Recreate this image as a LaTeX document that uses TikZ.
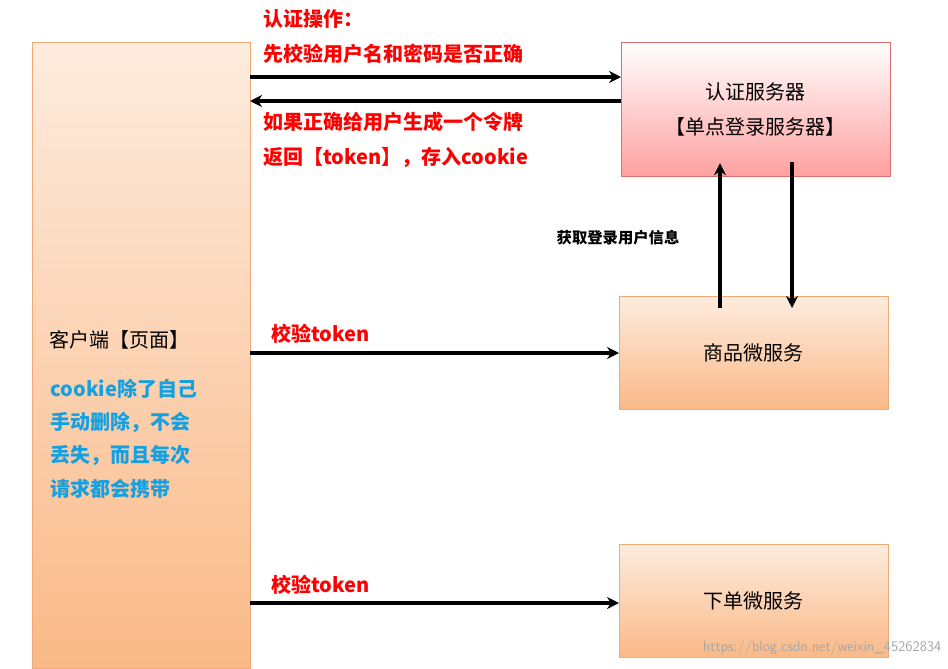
\documentclass[tikz,border=0pt]{standalone}
\usepackage{fontspec}
\usepackage{xcolor}
\newfontfamily\cjk{Noto Sans CJK SC}
\usetikzlibrary{arrows.meta}
\definecolor{boxorange}{RGB}{250,185,135}
\definecolor{boxpink}{RGB}{255,160,160}
\definecolor{noteblue}{RGB}{20,160,225}
\begin{document}
\begin{tikzpicture}[x=0.75pt,y=0.75pt,yscale=-1,xscale=1,
  orangebox/.style={draw={rgb,255:red,240;green,170;blue,120},top color={rgb,255:red,253;green,236;blue,222},bottom color=boxorange},
  link/.style={line width=2.4pt,-{Stealth[length=9pt,width=9pt]}},
  redtext/.style={anchor=north west,inner sep=0.75pt,align=left,font=\cjk\bfseries\fontsize{15}{26}\selectfont,text=red},
  boxtext/.style={font=\cjk\fontsize{15}{26}\selectfont,align=center}]
\useasboundingbox (0,0) rectangle (948,668);

% boxes
\node (client) [orangebox,minimum width=163.5pt,minimum height=469.5pt,anchor=north west] at (32,42) {};
\node (auth) [draw={rgb,255:red,220;green,110;blue,110},top color=white,bottom color=boxpink,minimum width=201.75pt,minimum height=100.5pt,anchor=north west,boxtext] at (621,42) {认证服务器\\【单点登录服务器】};
\node (goods) [orangebox,minimum width=201.75pt,minimum height=84.75pt,anchor=north west,boxtext] at (619,296) {商品微服务};
\node (order) [orangebox,minimum width=201.75pt,minimum height=84.75pt,anchor=north west,boxtext] at (619,544) {下单微服务};

% client texts
\node (clientname) [anchor=west,boxtext] at (45,340) {客户端【页面】};
\node (clientnote) [anchor=north west,align=left,font=\cjk\bfseries\fontsize{15}{25}\selectfont,text=noteblue] at (46,374) {cookie除了自己\\手动删除，不会\\丢失，而且每次\\请求都会携带};

% connectors
\coordinate (a1) at (250,77);
\coordinate (a2) at (250,101);
\coordinate (a3) at (250,353);
\coordinate (a4) at (250,603);
\coordinate (up) at (720,0);
\coordinate (down) at (792,0);
\draw [link] (a1) -- (a1 -| auth.west);
\draw [link] (a2 -| auth.west) -- (a2);
\draw [link] (a3) -- (a3 -| goods.west);
\draw [link] (a4) -- (a4 -| order.west);
\draw [link] ([yshift=9pt]goods.north -| up) -- ([yshift=-10pt]auth.south -| up);
\draw [link] ([yshift=-11pt]auth.south -| down) -- ([yshift=9pt]goods.north -| down);

% Text Node
\node (step1) [redtext] at (262,8) {认证操作：\\先校验用户名和密码是否正确};
\node (step2) [redtext] at (262,111) {如果正确给用户生成一个令牌\\返回【token】，存入cookie};
\node (check1) [redtext] at (270,323) {校验token};
\node (check2) [redtext] at (270,574) {校验token};
\node (fetch) [anchor=west,font=\cjk\bfseries\fontsize{11.5}{14}\selectfont] at (552,238) {获取登录用户信息};
\node (mark) [anchor=east,font=\fontsize{11}{13}\selectfont\sffamily,text=gray!70] at (946,648) {https://blog.csdn.net/weixin\_45262834};
\end{tikzpicture}
\end{document}
